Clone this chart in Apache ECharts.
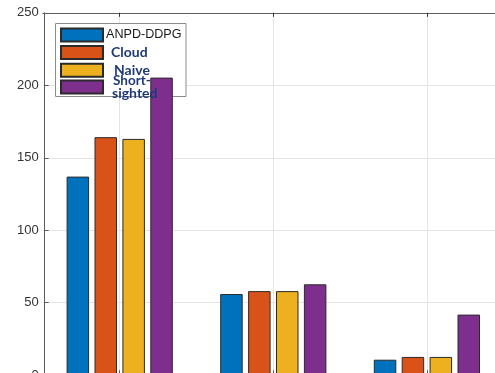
<!DOCTYPE html>
<html>
<head>
<meta charset="utf-8">
<script src="https://cdn.jsdelivr.net/npm/echarts@6/dist/echarts.min.js"></script>
<style>
  html, body { margin: 0; padding: 0; background: #fff; }
  #chart { width: 495px; height: 373px; }
</style>
</head>
<body>
<div id="chart"></div>
<script>
// Scenario groups along the x axis
const categories = ['1', '2', '3'];

// Values per method
const seriesNames = ['ANPD-DDPG', 'Cloud', 'Naive', 'Short-sighted'];
const anpdDdpg = [137, 56, 10.7];
const cloud = [164.2, 58, 12.6];
const naive = [163, 58, 12.6];
const shortSighted = [205.3, 62.7, 41.8];

// Y axis ticks
const yTicks = [0, 50, 100, 150, 200, 250];

const colors = ['#0072BD', '#D95319', '#EDB120', '#7E2F8E'];
const values = [anpdDdpg, cloud, naive, shortSighted];

const chart = echarts.init(document.getElementById('chart'), null, { renderer: 'canvas' });

const axisGray = '#5c5c5c';
const gridGray = '#e4e4e4';

const series = seriesNames.map((name, i) => ({
  name: name,
  type: 'bar',
  data: values[i],
  barWidth: 22.5,
  barGap: '24%',
  z: 3,
  itemStyle: { color: colors[i], borderColor: '#2a2a2a', borderWidth: 1 }
}));

const navy = '#203a78';
const labelRich = {
  a: { fontFamily: 'Liberation Sans, Arial, sans-serif', fontSize: 12.6, color: '#1a1a1a', lineHeight: 17, padding: [0, 0, 0, -2] },
  b: { fontFamily: 'Lato, sans-serif', fontWeight: 'bold', fontSize: 14, color: navy, lineHeight: 17, padding: [0, 0, 0, 3] },
  n: { fontFamily: 'Lato, sans-serif', fontWeight: 'bold', fontSize: 14, color: navy, lineHeight: 17, padding: [0, 0, 0, 6] },
  s: { fontFamily: 'Lato, sans-serif', fontWeight: 'bold', fontSize: 13.5, color: navy, lineHeight: 13, padding: [0, 0, 0, 5] },
  s2: { fontFamily: 'Lato, sans-serif', fontWeight: 'bold', fontSize: 14, color: navy, lineHeight: 13, padding: [0, 0, 0, 4] }
};

function legendLabel(name) {
  if (name === 'ANPD-DDPG') return '{a|' + name + '}';
  if (name === 'Short-sighted') return '{s|Short-}\n{s2|sighted}';
  if (name === 'Naive') return '{n|Naive}';
  return '{b|' + name + '}';
}

const legendBase = {
  orient: 'vertical',
  left: 60,
  itemWidth: 42,
  itemHeight: 13,
  itemGap: 2.6,
  icon: 'rect',
  padding: 0,
  z: 5,
  formatter: legendLabel,
  textStyle: { rich: labelRich }
};

chart.setOption({
  animation: false,
  backgroundColor: '#ffffff',
  grid: {
    left: 42.9, top: 12.8, width: 460.8, height: 362.4,
    containLabel: false,
    outerBoundsMode: 'none'
  },
  xAxis: [
    {
      type: 'category',
      data: categories,
      position: 'bottom',
      axisLine: { show: true, lineStyle: { color: axisGray, width: 1 } },
      axisTick: { show: true, inside: true, alignWithLabel: true, length: 5, lineStyle: { color: axisGray } },
      axisLabel: { show: false },
      splitLine: { show: true, alignWithLabel: true, lineStyle: { color: gridGray, width: 1 } }
    },
    {
      type: 'category',
      data: categories,
      position: 'top',
      axisLine: { show: true, lineStyle: { color: axisGray, width: 1 } },
      axisTick: { show: true, inside: true, alignWithLabel: true, length: 4, lineStyle: { color: '#333' } },
      axisLabel: { show: false },
      splitLine: { show: false }
    }
  ],
  yAxis: {
    type: 'value',
    min: yTicks[0],
    max: yTicks[yTicks.length - 1],
    interval: 50,
    offset: -1.8,
    axisLine: { show: true, lineStyle: { color: axisGray, width: 1 } },
    axisTick: { show: true, inside: true, length: 4, lineStyle: { color: axisGray } },
    axisLabel: {
      margin: 6,
      color: '#333333',
      fontFamily: 'Liberation Sans, Arial, sans-serif',
      fontSize: 13
    },
    splitLine: { show: true, lineStyle: { color: gridGray, width: 1 } }
  },
  legend: [
    Object.assign({}, legendBase, { top: 27.5, data: seriesNames.slice(0, 3) }),
    Object.assign({}, legendBase, { top: 73.5, data: seriesNames.slice(3) })
  ],
  graphic: [
    {
      // legend frame, kept beneath the bars
      type: 'rect',
      z: 1,
      shape: { x: 55.5, y: 23.5, width: 130.5, height: 73 },
      style: { fill: '#ffffff', stroke: '#8c8c8c', lineWidth: 1 }
    }
  ],
  series: series
});
</script>
</body>
</html>
